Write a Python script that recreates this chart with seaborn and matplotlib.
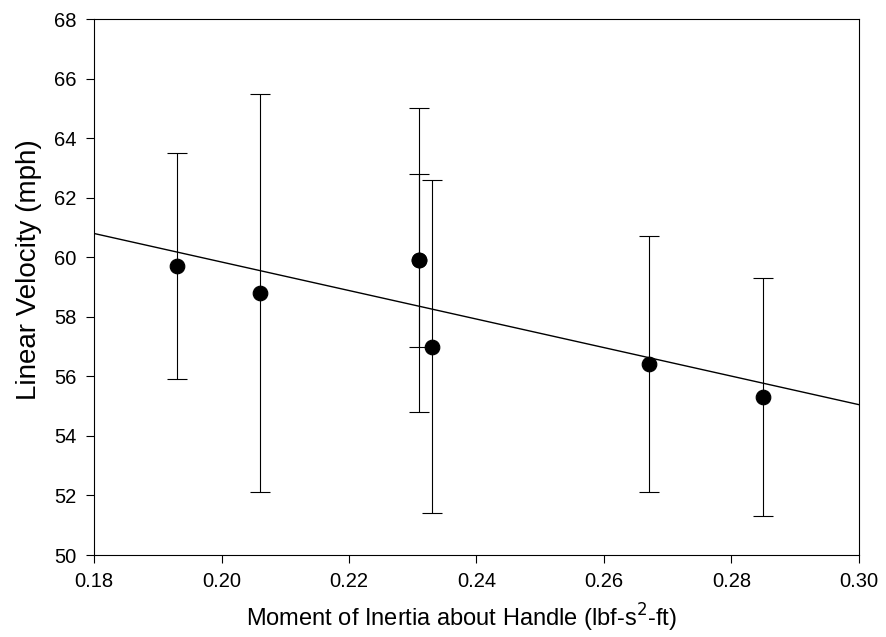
import matplotlib
matplotlib.use("Agg")
import matplotlib.pyplot as plt
import pandas as pd
import seaborn as sns

# moment of inertia vs linear velocity (mean +/- error)
moment = [0.193, 0.206, 0.231, 0.231, 0.233, 0.267, 0.285]
velocity = [59.7, 58.8, 59.9, 59.9, 57.0, 56.4, 55.3]
err_low = [55.9, 52.1, 54.8, 57.0, 51.4, 52.1, 51.3]
err_high = [63.5, 65.5, 65.0, 62.8, 62.6, 60.7, 59.3]

# regression line endpoints
fit_x = [0.18, 0.30]
fit_y = [60.8, 55.05]

df = pd.DataFrame({'moment': moment, 'velocity': velocity,
                   'low': err_low, 'high': err_high})
fit = pd.DataFrame({'x': fit_x, 'y': fit_y})

sns.set_style("ticks")
plt.rcParams['font.family'] = ['Liberation Sans', 'DejaVu Sans']
plt.rcParams['axes.linewidth'] = 0.8
plt.rcParams['text.color'] = 'black'
plt.rcParams['axes.labelcolor'] = 'black'

fig, ax = plt.subplots(figsize=(8.87, 6.37), dpi=100)
fig.subplots_adjust(left=0.106, right=0.9684, top=0.970, bottom=0.1287)

ax.errorbar(df['moment'], df['velocity'],
            yerr=[df['velocity'] - df['low'], df['high'] - df['velocity']],
            fmt='none', ecolor='black', elinewidth=0.8, capsize=7.5, capthick=0.8)
sns.lineplot(ax=ax, data=fit, x='x', y='y', color='black', linewidth=1.0)
sns.scatterplot(ax=ax, data=df, x='moment', y='velocity', color='black',
                s=110, edgecolor='black', zorder=5)

ax.set_xlim(0.18, 0.30)
ax.set_ylim(50, 68)
ax.set_xticks([0.18, 0.20, 0.22, 0.24, 0.26, 0.28, 0.30])
ax.set_yticks(range(50, 69, 2))
ax.set_xticklabels([f"{t:.2f}" for t in ax.get_xticks()])
ax.tick_params(direction='out', length=5.5, width=0.8, labelsize=14.5,
               colors='black', labelcolor='black', pad=7)
for s in ax.spines.values():
    s.set_visible(True)
    s.set_color('black')

ax.set_xlabel('Moment of Inertia about Handle (lbf-s$^2$-ft)', fontsize=17, color='black')
ax.set_ylabel('Linear Velocity (mph)', fontsize=20, color='black')
ax.xaxis.set_label_coords(0.48, -0.088)
ax.yaxis.set_label_coords(-0.068, 0.532)

plt.savefig('out.png', dpi=100)
